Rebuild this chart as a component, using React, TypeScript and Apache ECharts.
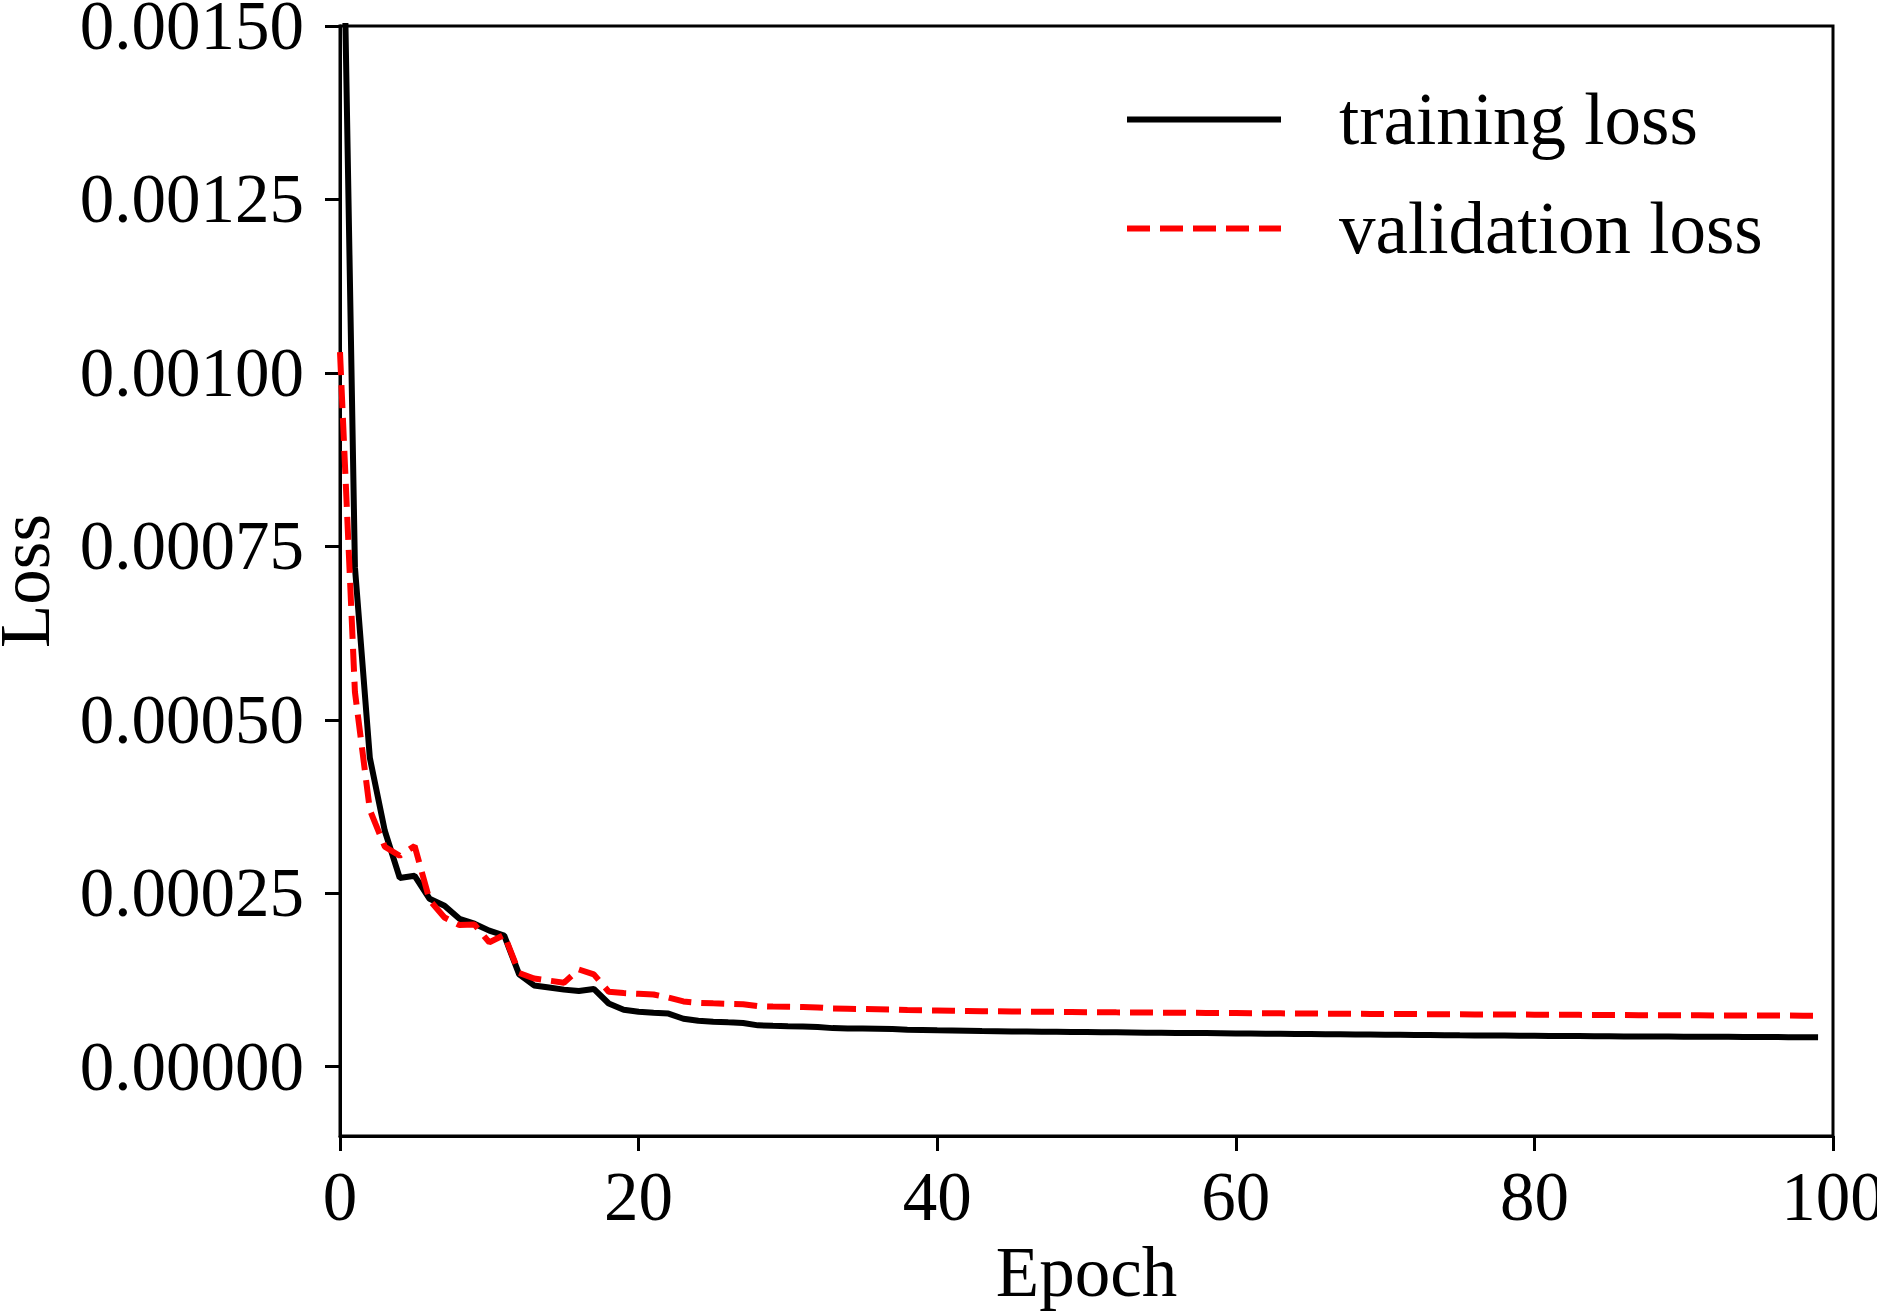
import React, { useEffect, useRef } from "react";
import * as echarts from "echarts";

const epochs: number[] = Array.from({ length: 100 }, (_, i) => i);

const trainingLoss: number[] = [
  0.00195, 0.00072, 0.000445, 0.00034, 0.000272, 0.000275, 0.000242, 0.000232, 0.000213, 0.000206,
  0.000196, 0.000189, 0.000133, 0.000117, 0.000114, 0.000111, 0.000109, 0.000112, 0.000091, 0.000082,
  0.000079, 0.0000775, 0.0000765, 0.000069, 0.000066, 0.0000648, 0.0000638, 0.000063, 0.0000595, 0.0000588,
  0.0000582, 0.0000577, 0.0000572, 0.0000555, 0.0000551, 0.0000548, 0.0000545, 0.0000541, 0.0000532, 0.0000528,
  0.0000524, 0.0000521, 0.0000518, 0.0000512, 0.000051, 0.0000508, 0.0000506, 0.0000504, 0.0000502, 0.00005,
  0.0000498, 0.0000496, 0.0000494, 0.0000492, 0.000049, 0.0000488, 0.0000486, 0.0000485, 0.0000483, 0.0000481,
  0.0000479, 0.0000477, 0.0000475, 0.0000473, 0.0000471, 0.0000469, 0.0000467, 0.0000465, 0.0000463, 0.0000462,
  0.000046, 0.0000458, 0.0000456, 0.0000455, 0.0000453, 0.0000451, 0.000045, 0.0000448, 0.0000447, 0.0000445,
  0.0000444, 0.0000442, 0.0000441, 0.000044, 0.0000438, 0.0000437, 0.0000436, 0.0000435, 0.0000434, 0.0000433,
  0.0000432, 0.0000431, 0.000043, 0.0000429, 0.0000428, 0.0000427, 0.0000426, 0.0000425, 0.0000424, 0.0000423,
];

const validationLoss: number[] = [
  0.00103, 0.00054, 0.00037, 0.000317, 0.000304, 0.000318, 0.00024, 0.000215, 0.000204, 0.000205,
  0.000179, 0.00019, 0.000135, 0.000127, 0.000124, 0.000121, 0.00014, 0.000133, 0.000108, 0.000106,
  0.000105, 0.000104, 0.0000995, 0.000094, 0.000092, 0.0000912, 0.0000905, 0.00009, 0.0000872, 0.0000866,
  0.0000862, 0.0000858, 0.0000853, 0.0000838, 0.0000834, 0.000083, 0.0000827, 0.0000824, 0.0000815, 0.0000811,
  0.0000808, 0.0000805, 0.0000802, 0.0000799, 0.0000797, 0.0000795, 0.0000793, 0.0000791, 0.0000789, 0.0000787,
  0.0000785, 0.0000784, 0.0000782, 0.0000781, 0.000078, 0.0000778, 0.0000777, 0.0000776, 0.0000774, 0.0000773,
  0.0000772, 0.000077, 0.0000769, 0.0000768, 0.0000766, 0.0000765, 0.0000764, 0.0000763, 0.0000762, 0.000076,
  0.0000759, 0.0000758, 0.0000757, 0.0000756, 0.0000755, 0.0000754, 0.0000753, 0.0000752, 0.0000751, 0.000075,
  0.0000749, 0.0000748, 0.0000747, 0.0000746, 0.0000745, 0.0000744, 0.0000743, 0.0000742, 0.0000741, 0.000074,
  0.0000739, 0.0000739, 0.0000738, 0.0000738, 0.0000737, 0.0000737, 0.0000736, 0.0000736, 0.0000735, 0.0000735,
];

const yTickValues: number[] = [0, 0.00025, 0.0005, 0.00075, 0.001, 0.00125, 0.0015];
const xTickValues: number[] = [0, 20, 40, 60, 80, 100];

const FONT = "Liberation Serif";

export default function App() {
  const ref = useRef<HTMLDivElement>(null);

  useEffect(() => {
    if (!ref.current) return;
    const chart = echarts.init(ref.current, undefined, { renderer: "svg" });
    const trainData = epochs.map((e, i) => [e, trainingLoss[i]]);
    const valData = epochs.map((e, i) => [e, validationLoss[i]]);

    chart.setOption({
      animation: false,
      backgroundColor: "#ffffff",
      textStyle: { fontFamily: FONT, color: "#000" },
      grid: {
        left: 340,
        top: 26,
        right: 44,
        bottom: 177,
        containLabel: false,
        outerBoundsMode: "none",
        show: true,
        borderColor: "#000",
        borderWidth: 3,
        backgroundColor: "transparent",
      },
      legend: {
        orient: "vertical",
        left: 1119,
        top: 78,
        itemWidth: 154,
        itemHeight: 14,
        itemGap: 36,
        data: ["training loss", "validation loss"],
        itemStyle: { color: "transparent", borderWidth: 0, opacity: 0 },
        lineStyle: { width: 6 },
        textStyle: {
          fontFamily: FONT,
          fontSize: 73,
          color: "#000",
          lineHeight: 70,
          padding: [0, 0, 0, 53],
        },
      },
      xAxis: {
        type: "value",
        min: 0,
        max: 100,
        interval: 20,
        name: "Epoch",
        nameLocation: "middle",
        nameGap: 100,
        nameTextStyle: { fontFamily: FONT, fontSize: 71, color: "#000" },
        axisLine: { show: true, onZero: false, lineStyle: { color: "#000", width: 3 } },
        axisTick: {
          show: true,
          inside: false,
          length: 15,
          customValues: xTickValues,
          lineStyle: { color: "#000", width: 3 },
        },
        axisLabel: {
          show: true,
          margin: 26,
          fontSize: 69,
          color: "#000",
          fontFamily: FONT,
          customValues: xTickValues,
          formatter: (v: number) => String(v),
        },
        splitLine: { show: false },
      },
      yAxis: {
        type: "value",
        min: -0.0001,
        max: 0.0015,
        name: "Loss",
        nameLocation: "middle",
        nameGap: 280,
        nameRotate: 90,
        nameTextStyle: { fontFamily: FONT, fontSize: 71, color: "#000" },
        axisLine: { show: true, onZero: false, lineStyle: { color: "#000", width: 3 } },
        axisTick: {
          show: true,
          inside: false,
          length: 15,
          customValues: yTickValues,
          lineStyle: { color: "#000", width: 3 },
        },
        axisLabel: {
          show: true,
          margin: 36,
          fontSize: 69,
          color: "#000",
          fontFamily: FONT,
          customValues: yTickValues,
          formatter: (v: number) => v.toFixed(5),
        },
        splitLine: { show: false },
      },
      series: [
        {
          name: "training loss",
          type: "line",
          data: trainData,
          symbol: "none",
          showSymbol: false,
          clip: true,
          lineStyle: { color: "#000000", width: 6 },
          itemStyle: { color: "#000000" },
        },
        {
          name: "validation loss",
          type: "line",
          data: valData,
          symbol: "none",
          showSymbol: false,
          clip: true,
          lineStyle: { color: "#ff0000", width: 6, type: [23, 10] },
          itemStyle: { color: "#ff0000" },
        },
      ],
    });

    return () => {
      chart.dispose();
    };
  }, []);

  return (
    <div
      ref={ref}
      style={{ position: "absolute", left: 0, top: 0, width: 1877, height: 1313 }}
    />
  );
}
